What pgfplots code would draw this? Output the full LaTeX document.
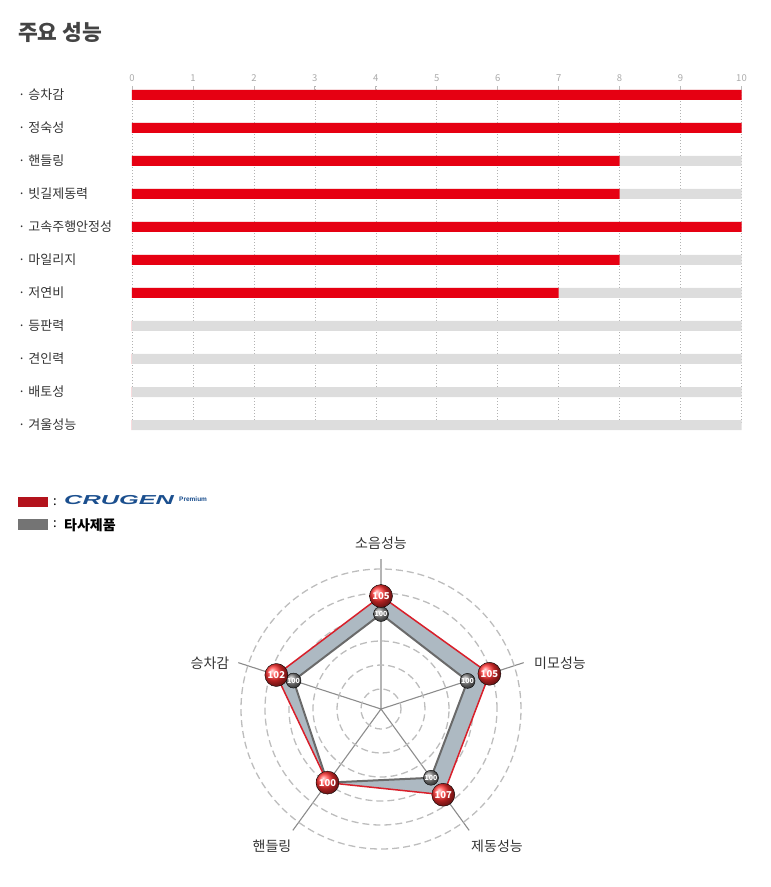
\documentclass[border=0pt]{standalone}
\usepackage{fontspec}
\setmainfont{Noto Sans CJK KR}
\newfontfamily\logofont{Liberation Sans}
\usepackage{graphicx}
\usepackage{pgfplots}
\usepgfplotslibrary{polar}
\pgfplotsset{compat=1.18}

\definecolor{barred}{HTML}{E60012}
\definecolor{barbg}{HTML}{DDDDDD}
\definecolor{titlecol}{HTML}{444444}
\definecolor{labelcol}{HTML}{333333}
\definecolor{tickcol}{HTML}{AAAAAA}
\definecolor{legred}{HTML}{B3131C}
\definecolor{leggray}{HTML}{747474}
\definecolor{logoblue}{HTML}{1B4F8E}
\definecolor{bandcol}{HTML}{ADB9C2}
\definecolor{linered}{HTML}{D91F2A}
\definecolor{linegray}{HTML}{6A6A6A}
\definecolor{spokecol}{HTML}{8C8C8C}
\definecolor{ringcol}{HTML}{BDBDBD}
\definecolor{ballred}{HTML}{FF3030}
\definecolor{ballgray}{HTML}{888888}

\begin{document}
\begin{tikzpicture}
\useasboundingbox (0,0) rectangle (771pt,-887pt);

% title
\node[anchor=west, font=\fontsize{21.5}{24}\selectfont\bfseries, text=titlecol, inner sep=0pt] at (18pt,-32pt) {주요 성능};

% bar chart
\begin{axis}[
    at={(132pt,-86pt)}, anchor=north west,
    scale only axis, width=609.5pt, height=339pt,
    xmin=0, xmax=10, ymin=-0.27, ymax=10,
    y dir=reverse, clip=false,
    axis line style={draw=none},
    xtick={0,1,...,10}, xtick pos=upper, xticklabel pos=upper,
    tick align=inside, major tick length=4pt,
    xtick style={tickcol!80, line width=0.8pt},
    xticklabel style={font=\fontsize{9.5}{10}\selectfont, text=tickcol, yshift=1pt},
    /pgf/number format/assume math mode=true,
    xmajorgrids, major x grid style={tickcol!90, line width=0.6pt, dash pattern=on 1pt off 2pt},
    ytick={0,1,...,10}, ytick style={draw=none},
    yticklabels={{· 승차감},{· 정숙성},{· 핸들링},{· 빗길제동력},{· 고속주행안정성},{· 마일리지},{· 저연비},{· 등판력},{· 견인력},{· 배토성},{· 겨울성능}},
    yticklabel style={anchor=west, xshift=-114pt, inner sep=0pt, font=\fontsize{13}{15}\selectfont, text=labelcol},
]
\addplot[xbar, bar width=10pt, bar shift=0pt, fill=barbg, draw=none]
  coordinates {(10,0) (10,1) (10,2) (10,3) (10,4) (10,5) (10,6) (10,7) (10,8) (10,9) (10,10)};
\addplot[xbar, bar width=10pt, bar shift=0pt, fill=barred, draw=none]
  coordinates {(10,0) (10,1) (8,2) (8,3) (10,4) (8,5) (7,6) (0,7) (0,8) (0,9) (0,10)};
\end{axis}

% legend
\fill[legred] (18pt,-497pt) rectangle (48pt,-507pt);
\fill[leggray] (18pt,-519pt) rectangle (48pt,-530pt);
\node[anchor=west, inner sep=0pt, font=\fontsize{13}{14}\selectfont] at (53pt,-502pt) {:};
\node[anchor=west, inner sep=0pt, font=\fontsize{13}{14}\selectfont] at (53pt,-524pt) {:};
\node[anchor=west, inner sep=0pt, text=logoblue, font=\logofont\fontsize{13}{14}\selectfont\bfseries\itshape] at (64pt,-500pt) {\scalebox{1.95}[1]{CRUGEN}};
\node[anchor=west, inner sep=0pt, text=logoblue, font=\logofont\fontsize{6.5}{7}\selectfont\bfseries] at (179pt,-499pt) {Premium};
\node[anchor=west, inner sep=0pt, text=black, font=\fontsize{14}{16}\selectfont\bfseries] at (64pt,-525pt) {타사제품};

% radar chart
\begin{polaraxis}[
    at={(381pt,-709pt)}, anchor=center,
    scale only axis, width=300pt, height=300pt,
    ymin=0, ymax=150, clip=false,
    xtick={18,90,162,234,306}, xticklabels={},
    ytick={20,44,68,92,116,140}, yticklabels={},
    major tick length=0pt,
    axis line style={draw=none},
    xmajorgrids, ymajorgrids,
    major x grid style={spokecol, line width=1.1pt},
    major y grid style={ringcol, line width=1.3pt, dash pattern=on 7pt off 4pt},
]
% band between the two outlines
\addplot[fill=bandcol, draw=none, even odd rule]
  coordinates {(90,113) (18,114) (306,106) (234,91) (162,110) (90,113)
               (90,95) (18,91) (306,85) (234,91) (162,92) (90,95)};
% other products
\addplot[draw=linegray, line width=2pt]
  coordinates {(90,95) (18,91) (306,85) (234,91) (162,92) (90,95)};
% CRUGEN
\addplot[draw=linered, line width=1.5pt]
  coordinates {(90,113) (18,114) (306,106) (234,91) (162,110) (90,113)};
\addplot[only marks, mark=ball, mark size=7.5pt, mark options={ball color=ballgray},
    point meta=explicit symbolic, nodes near coords,
    every node near coord/.append style={anchor=center, inner sep=0pt, text=white, font=\fontsize{7}{8}\selectfont\bfseries}]
  coordinates {(90,95) [100] (18,91) [100] (306,85) [100] (162,92) [100]};
\addplot[only marks, mark=ball, mark size=11.5pt, mark options={ball color=ballred},
    point meta=explicit symbolic, nodes near coords,
    every node near coord/.append style={anchor=center, inner sep=0pt, text=white, font=\fontsize{9.5}{10}\selectfont\bfseries}]
  coordinates {(90,113) [105] (18,114) [105] (306,106) [107] (234,91) [100] (162,110) [102]};
\end{polaraxis}

% radar labels
\node[font=\fontsize{14}{16}\selectfont, text=labelcol] at (381pt,-543pt) {소음성능};
\node[font=\fontsize{14}{16}\selectfont, text=labelcol] at (560pt,-663pt) {미모성능};
\node[font=\fontsize{14}{16}\selectfont, text=labelcol] at (497pt,-846pt) {제동성능};
\node[font=\fontsize{14}{16}\selectfont, text=labelcol] at (272pt,-846pt) {핸들링};
\node[font=\fontsize{14}{16}\selectfont, text=labelcol] at (210pt,-663pt) {승차감};
\end{tikzpicture}
\end{document}
